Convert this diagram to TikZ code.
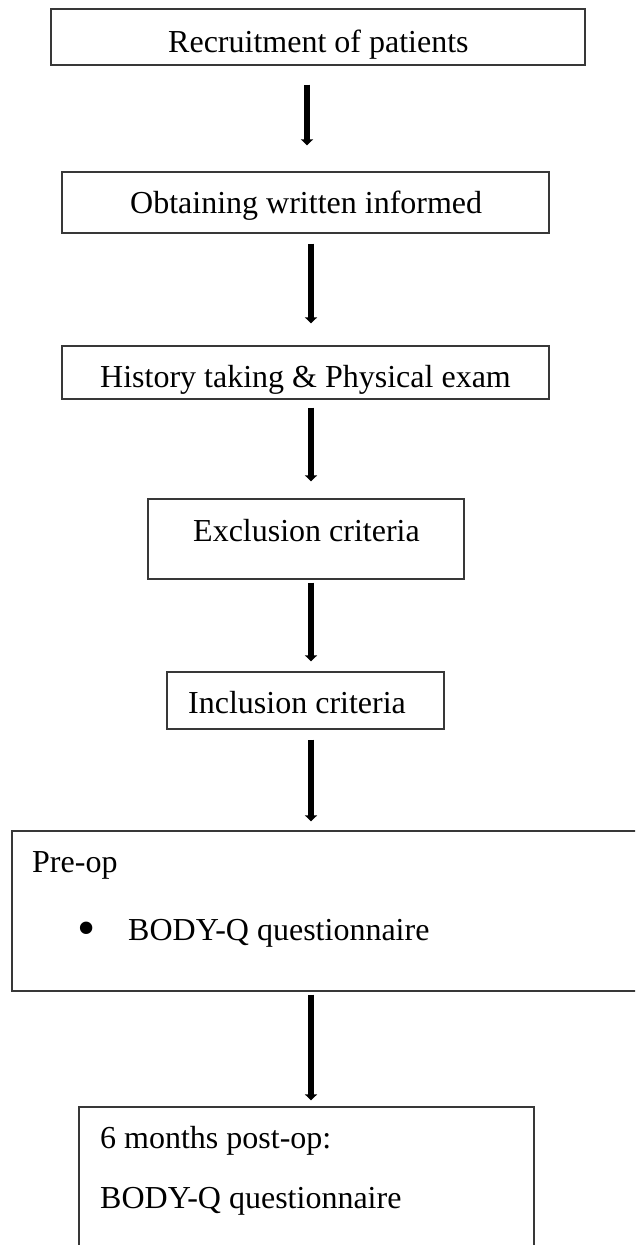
\documentclass[tikz,border=0pt]{standalone}
\usepackage{fontspec}
\setmainfont{Liberation Serif}
\usetikzlibrary{arrows.meta,calc}
\tikzset{
  box/.style={draw=black!78, line width=1.3pt, rectangle, inner sep=0pt, fill=none},
  lbl/.style={anchor=base west, inner sep=0pt, font=\fontsize{32}{38}\selectfont},
  flow/.style={line width=6pt, black, -{Triangle[width=12pt,length=6pt]}}
}
\begin{document}
\begin{tikzpicture}[x=1pt,y=-1pt]
\useasboundingbox (0,0) rectangle (635,1245);
\clip (0,0) rectangle (635,1245);
% boxes
\node[box, minimum width=534pt, minimum height=56pt] (b1) at (318,37) {};
\node[box, minimum width=487pt, minimum height=61pt] (b2) at (305.5,202.5) {};
\node[box, minimum width=487pt, minimum height=53pt] (b3) at (305.5,372.5) {};
\node[box, minimum width=316pt, minimum height=80pt] (b4) at (306,539) {};
\node[box, minimum width=277pt, minimum height=57pt] (b5) at (305.5,700.5) {};
\node[box, minimum width=628pt, minimum height=160pt] (b6) at (326,911) {};
\node[box, minimum width=455pt, minimum height=145pt] (b7) at (306.5,1179.5) {};
% texts
\node[lbl] (t1) at (168,52) {Recruitment of patients};
\node[lbl] (t2) at (130,213) {Obtaining written informed};
\node[lbl] (t3) at (100,387) {History taking \& Physical exam};
\node[lbl] (t4) at (193,541) {Exclusion criteria};
\node[lbl] (t5) at (188,713) {Inclusion criteria};
\node[lbl] (t6) at (32,872) {Pre-op};
\node[lbl, font=\fontsize{52}{60}\selectfont] (t6b) at (77,945) {•};
\node[lbl] (t6c) at (128,940) {BODY-Q questionnaire};
\node[lbl] (t7) at (100,1148) {6 months post-op:};
\node[lbl] (t7b) at (100,1208) {BODY-Q questionnaire};
% arrows
\draw[flow] ($(b1.south)+(-11,19)$) -- ($(b2.north)+(1.5,-26)$);
\draw[flow] ($(b2.south)+(5.5,10)$) -- ($(b3.north)+(5.5,-22)$);
\draw[flow] ($(b3.south)+(5.5,8)$) -- ($(b4.north)+(5,-17)$);
\draw[flow] ($(b4.south)+(5,3)$) -- ($(b5.north)+(5.5,-10)$);
\draw[flow] ($(b5.south)+(5.5,10)$) -- ($(b6.north)+(-15,-9)$);
\draw[flow] ($(b6.south)+(-15,3)$) -- ($(b7.north)+(4.5,-6)$);
\end{tikzpicture}
\end{document}
